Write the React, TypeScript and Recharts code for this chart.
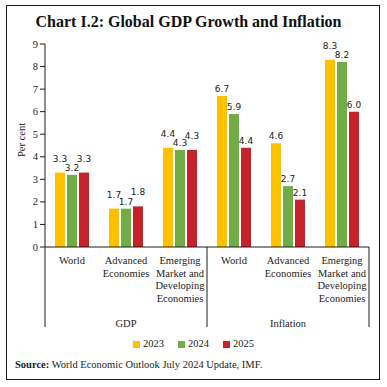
import { Bar, BarChart, LabelList, XAxis, YAxis } from "recharts";

const categories = ["World", "Advanced\nEconomies", "Emerging\nMarket and\nDeveloping\nEconomies"];
const groups = ["GDP", "Inflation"];
const years = ["2023", "2024", "2025"];
const values2023 = [3.3, 1.7, 4.4, 6.7, 4.6, 8.3];
const values2024 = [3.2, 1.7, 4.3, 5.9, 2.7, 8.2];
const values2025 = [3.3, 1.8, 4.3, 4.4, 2.1, 6.0];
const yTicks = [0, 1, 2, 3, 4, 5, 6, 7, 8, 9];

const seriesValues = [values2023, values2024, values2025];
const colors = ["#FFC000", "#70AD47", "#C5222B"];

const data = groups.flatMap((group, g) =>
  categories.map((label, c) => {
    const i = g * categories.length + c;
    return {
      key: `${group}-${c}`,
      label,
      group,
      y2023: values2023[i],
      y2024: values2024[i],
      y2025: values2025[i],
    };
  }),
);

const W = 387;
const H = 387;
const margin = { top: 44, right: 18, bottom: 60, left: 15 };
const Y_AXIS_W = 30;
const X_AXIS_H = 80;
const plotW = W - margin.left - margin.right - Y_AXIS_W;
const axisY = H - margin.bottom - X_AXIS_H;
const plotH = axisY - margin.top;
const band = plotW / data.length;
const pxPerUnit = plotH / yTicks[yTicks.length - 1];

const serif = "'Liberation Serif', 'Times New Roman', serif";
const ink = "#1c1c1c";
const serifText = { fontFamily: serif, fontSize: 10.5 };

function CategoryTick(props: any) {
  const { x, index } = props;
  const row = data[index];
  const lines = row.label.split("\n");
  const pos = index % categories.length;
  return (
    <g>
      {lines.map((line: string, i: number) => (
        <text key={i} x={x} y={axisY + 17 + i * 12.7} textAnchor="middle" style={serifText} fill={ink}>
          {line}
        </text>
      ))}
      {pos === 0 && <line x1={x - band / 2} x2={x - band / 2} y1={axisY} y2={axisY + X_AXIS_H} stroke={ink} />}
      {index === data.length - 1 && <line x1={x + band / 2} x2={x + band / 2} y1={axisY} y2={axisY + X_AXIS_H} stroke={ink} />}
      {pos === 1 && (
        <text x={x} y={axisY + 79.5} textAnchor="middle" style={serifText} fill={ink}>
          {row.group}
        </text>
      )}
    </g>
  );
}

function ValueTick(props: any) {
  const { x, y, payload } = props;
  return (
    <text x={x} y={y} dy={3.5} textAnchor="end" style={{ fontFamily: serif, fontSize: 10.5 }} fill={ink}>
      {payload.value}
    </text>
  );
}

function makeDataLabel(series: number) {
  return (props: any) => {
    const { x, y, width, value, index } = props;
    const mid = seriesValues[1][index];
    const clash = series !== 1 && Math.abs(value - mid) * pxPerUnit < 9;
    return (
      <text x={x + width / 2} y={y - 4 - (clash ? 7 : 0)} textAnchor="middle" style={{ fontFamily: "'DejaVu Sans', sans-serif", fontSize: 9 }} fill="#222">
        {Number(value).toFixed(1)}
      </text>
    );
  };
}

function YLabel() {
  return (
    <text x={21} y={140} transform="rotate(-90, 21, 140)" textAnchor="middle" dominantBaseline="central" style={serifText} fill={ink}>
      Per cent
    </text>
  );
}

export default function App() {
  return (
    <div style={{ position: "absolute", left: 0, top: 0, width: W, height: H, background: "#fff" }}>
      <div style={{ position: "absolute", left: 6, top: 5, width: 374, height: 375, border: `1px solid ${ink}`, boxSizing: "border-box" }} />
      <div style={{ position: "absolute", left: 0, top: 12, width: 377, textAlign: "center", fontFamily: serif, fontWeight: 700, fontSize: 16, lineHeight: "20px", color: "#111" }}>
        Chart I.2: Global GDP Growth and Inflation
      </div>
      <div style={{ position: "absolute", left: 0, top: 0 }}>
        <BarChart width={W} height={H} data={data} margin={margin} barCategoryGap={10} barGap={2}>
          <XAxis dataKey="key" height={X_AXIS_H} tickLine={false} axisLine={{ stroke: ink }} tick={<CategoryTick />} interval={0} />
          <YAxis
            width={Y_AXIS_W}
            domain={[0, 9]}
            ticks={yTicks}
            interval={0}
            tickSize={5}
            tickMargin={2}
            axisLine={{ stroke: ink }}
            tickLine={{ stroke: ink }}
            tick={<ValueTick />}
            label={{ content: <YLabel /> }}
          />
          {years.map((year, k) => (
            <Bar key={year} dataKey={`y${year}`} name={year} fill={colors[k]} isAnimationActive={false}>
              <LabelList dataKey={`y${year}`} content={makeDataLabel(k)} />
            </Bar>
          ))}
        </BarChart>
      </div>
      <div style={{ position: "absolute", left: 0, top: 337, width: W, display: "flex", justifyContent: "center", gap: 14, fontFamily: serif, fontSize: 10.5, lineHeight: "14px", color: ink }}>
        {years.map((year, k) => (
          <span key={year} style={{ display: "inline-flex", alignItems: "center", gap: 3 }}>
            <i style={{ display: "inline-block", width: 7, height: 7, background: colors[k] }} />
            {year}
          </span>
        ))}
      </div>
      <div style={{ position: "absolute", left: 15, top: 358, fontFamily: serif, fontSize: 10.5, lineHeight: "14px", color: ink, whiteSpace: "nowrap" }}>
        <b>Source:</b> World Economic Outlook July 2024 Update, IMF.
      </div>
    </div>
  );
}
